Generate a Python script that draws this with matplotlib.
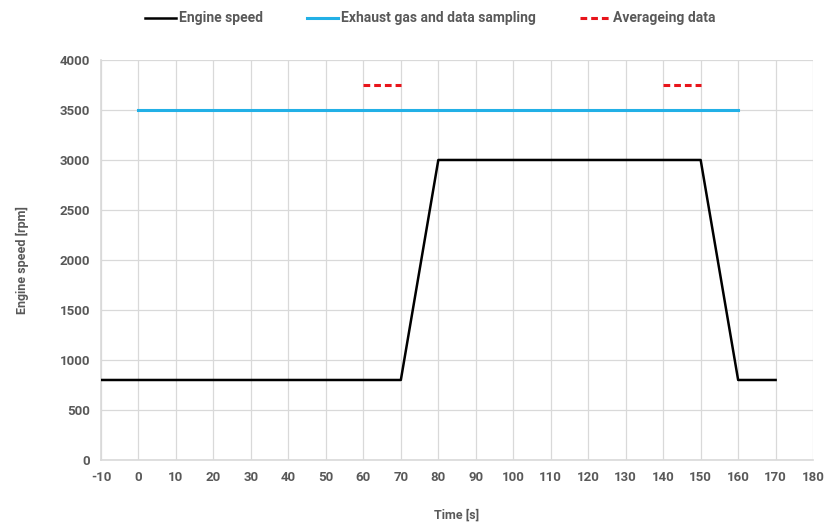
import matplotlib
matplotlib.use('Agg')
import matplotlib.pyplot as plt

# engine speed profile
time_engine = [-10, 70, 80, 150, 160, 170]
rpm_engine = [800, 800, 3000, 3000, 800, 800]

# sampling window
time_sampling = [0, 160]
rpm_sampling = [3500, 3500]

# averaging windows
avg_windows = [(60, 70), (140, 150)]
avg_level = 3750

x_ticks = list(range(-10, 181, 10))
y_ticks = list(range(0, 4001, 500))

TEXT_COLOR = '#595959'
GRID_COLOR = '#d9d9d9'

plt.rcParams['font.family'] = ['Roboto', 'DejaVu Sans']
plt.rcParams['axes.unicode_minus'] = False

fig = plt.figure(figsize=(8.28, 5.26), dpi=100)
ax = fig.add_axes([0.122, 0.1255, 0.860, 0.7605])

ax.plot(time_engine, rpm_engine, color='#000000', linewidth=1.8, label='Engine speed', zorder=4)
ax.plot(time_sampling, rpm_sampling, color='#22b0e6', linewidth=2.2, label='Exhaust gas and data sampling', zorder=3)
for i, (t0, t1) in enumerate(avg_windows):
    ax.plot([t0, t1], [avg_level, avg_level], color='#e8141b', linewidth=2.2,
            linestyle=(0, (2.2, 1.3)), label='Averageing data' if i == 0 else None, zorder=3)

ax.set_xlim(-10, 180)
ax.set_ylim(0, 4000)
ax.set_xticks(x_ticks)
ax.set_yticks(y_ticks)
ax.grid(True, color=GRID_COLOR, linewidth=0.9)
ax.set_axisbelow(True)
for side in ['top', 'right']:
    ax.spines[side].set_visible(False)
for side in ['left', 'bottom']:
    ax.spines[side].set_color(GRID_COLOR)
    ax.spines[side].set_linewidth(1.2)
ax.tick_params(length=0, pad=8, labelsize=9.5, labelcolor=TEXT_COLOR)
for lbl in ax.get_xticklabels() + ax.get_yticklabels():
    lbl.set_fontweight('bold')

ax.set_xlabel('Time [s]', fontsize=9, color=TEXT_COLOR, fontweight='bold', labelpad=18)
ax.set_ylabel('Engine speed [rpm]', fontsize=9, color=TEXT_COLOR, fontweight='bold', labelpad=22)

leg = fig.legend(loc='center', bbox_to_anchor=(0.52, 0.965), ncol=3, frameon=False,
                 fontsize=10, handlelength=2.2, handletextpad=0.2, columnspacing=3.2)
for t in leg.get_texts():
    t.set_color(TEXT_COLOR)
    t.set_fontweight('bold')

fig.savefig('out.png', dpi=100)
